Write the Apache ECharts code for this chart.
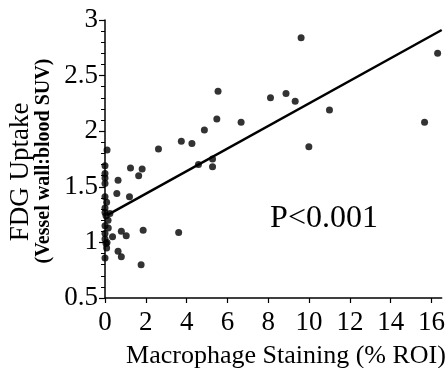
<!DOCTYPE html>
<html><head><meta charset="utf-8">
<script src="https://cdn.jsdelivr.net/npm/echarts@6/dist/echarts.min.js"></script>
<style>html,body{margin:0;padding:0;background:#fff}#c{width:448px;height:368px}</style>
</head><body><div id="c"></div>
<script>
const pointsX = [9.61,16.3,5.54,8.11,8.87,9.32,11.0,5.48,6.67,4.87,3.74,4.26,2.62,15.66,9.99,4.58,5.27,5.27,3.61,
  0.1,0,0,0,0,0.64,1.25,1.82,1.65,0.58,1.2,0,0.08,0,0,0.24,0.05,0,0.16,0,0.37,0.8,1.04,1.87,0,0.05,0.08,0.64,0.8,0,1.77,0.1,0.15];
const pointsY = [2.84,2.70,2.36,2.30,2.34,2.27,2.19,2.11,2.08,2.01,1.91,1.89,1.84,2.08,1.86,1.70,1.75,1.68,1.09,
  1.83,1.69,1.62,1.58,1.53,1.56,1.67,1.66,1.60,1.44,1.41,1.41,1.36,1.31,1.27,1.26,1.24,1.15,1.13,1.08,1.05,1.10,1.06,1.11,1.03,0.99,0.95,0.92,0.87,0.86,0.80,1.00,1.20];
const fitX = [0.15, 16.5];
const fitY = [1.25, 2.91];
const xTicks = [0,2,4,6,8,10,12,14,16];
const yTicks = [0.5,1,1.5,2,2.5,3];
const xTitle = 'Macrophage Staining (% ROI)';
const yTitle = 'FDG Uptake';
const ySubTitle = '(Vessel wall:blood SUV)';
const pText = 'P<0.001';

const serif = '"Liberation Serif","DejaVu Serif",serif';
const chart = echarts.init(document.getElementById('c'));
chart.setOption({
  animation: false,
  grid: {left: 105, right: 0, top: 20, bottom: 70},
  xAxis: {
    type: 'value', min: 0, max: 16.5, interval: 2,
    axisLine: {show: true, lineStyle: {color: '#000', width: 1.5}},
    axisTick: {show: true, length: 5, lineStyle: {color: '#000', width: 1.2}, customValues: xTicks},
    axisLabel: {color: '#000', fontFamily: serif, fontSize: 27, margin: 11, customValues: xTicks,
      alignMaxLabel: 'center', alignMinLabel: 'center', hideOverlap: false},
    splitLine: {show: false}
  },
  yAxis: {
    type: 'value', min: 0.5, max: 3, interval: 0.5,
    axisLine: {show: true, lineStyle: {color: '#000', width: 1.5}},
    axisTick: {show: true, length: 6, lineStyle: {color: '#000', width: 1.2}, customValues: yTicks},
    minorTick: {show: true, splitNumber: 5, length: 4, lineStyle: {color: '#000', width: 1}},
    axisLabel: {color: '#000', fontFamily: serif, fontSize: 27, margin: 7, customValues: yTicks},
    splitLine: {show: false}
  },
  series: [
    {type: 'scatter', data: pointsX.map((x, i) => [x, pointsY[i]]), symbolSize: 7,
     itemStyle: {color: '#000'}, clip: false},
    {type: 'line', data: fitX.map((x, i) => [x, fitY[i]]), symbol: 'none',
     lineStyle: {color: '#000', width: 2.5}, clip: false}
  ],
  graphic: [
    {type: 'text', x: 21, y: 172, rotation: Math.PI / 2,
     style: {text: yTitle, font: '27px ' + serif, fill: '#000', textAlign: 'center', textVerticalAlign: 'middle'}},
    {type: 'text', x: 44, y: 161, rotation: Math.PI / 2,
     style: {text: ySubTitle, font: 'bold 20px ' + serif, fill: '#000', textAlign: 'center', textVerticalAlign: 'middle'}},
    {type: 'text', x: 286, y: 369,
     style: {text: xTitle, font: '26px ' + serif, fill: '#000', textAlign: 'center', textVerticalAlign: 'bottom'}},
    {type: 'text', x: 324, y: 219,
     style: {text: pText, font: '32px ' + serif, fill: '#000', textAlign: 'center', textVerticalAlign: 'middle'}}
  ]
});
</script></body></html>
